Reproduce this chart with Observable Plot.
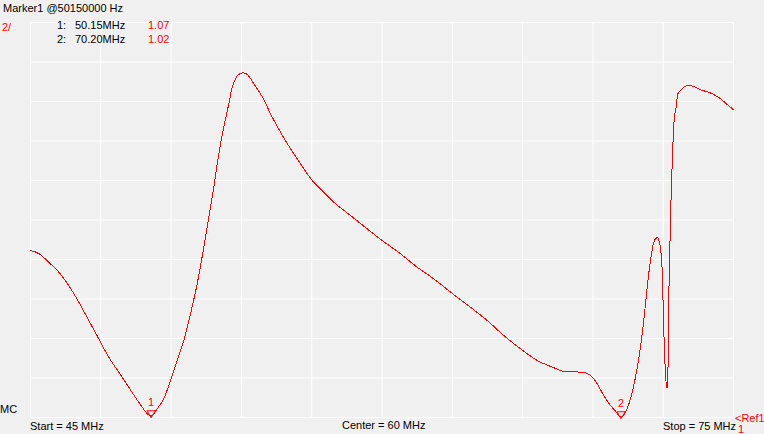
<!DOCTYPE html>
<html><head><meta charset="utf-8">
<script src="https://cdn.jsdelivr.net/npm/d3@7"></script>
<script src="https://cdn.jsdelivr.net/npm/@observablehq/plot@0.6"></script>
<style>
html,body{margin:0;padding:0;background:#f0f0f0;}
#chart{position:relative;width:764px;height:434px;}
svg text.ann{font-family:"Liberation Sans",Arial,sans-serif;font-size:11px;text-anchor:start;}
</style></head><body><div id="chart"></div>
<script>
// Sweep: frequency (MHz) and SWR
const freqMHz = [45.000,45.354,45.781,46.208,46.634,47.061,47.488,47.915,48.341,48.768,49.195,49.622,50.150,50.407,50.688,50.974,51.260,51.542,51.828,52.114,52.395,52.609,52.822,53.036,53.249,53.462,53.607,53.748,53.889,54.077,54.248,54.529,54.956,55.242,55.669,56.095,56.522,57.021,57.448,57.943,58.656,59.368,60.009,60.789,61.502,62.211,63.021,63.777,64.489,65.198,66.008,66.623,67.331,67.758,68.611,68.897,69.183,69.465,69.750,69.964,70.200,70.391,70.604,70.817,71.031,71.172,71.317,71.458,71.599,71.744,71.855,71.957,72.026,72.098,72.171,72.213,72.239,72.311,72.354,72.397,72.427,72.482,72.555,72.623,72.738,72.879,73.092,73.306,73.591,73.945,74.159,74.445,74.731,75.000];
const swr = [9.46,9.30,8.86,8.36,7.68,6.84,5.91,4.98,4.05,3.29,2.53,1.77,1.07,1.44,1.95,2.87,3.89,4.90,6.25,7.77,9.62,11.14,12.66,14.35,15.70,16.88,17.72,18.16,18.37,18.45,18.37,17.90,17.10,16.38,15.45,14.61,13.85,13.00,12.49,11.90,11.23,10.55,9.96,9.29,8.61,8.02,7.26,6.58,5.91,5.15,4.39,3.89,3.52,3.33,3.29,3.13,2.71,2.11,1.61,1.32,1.02,1.27,1.95,3.04,4.56,5.91,7.60,8.95,9.88,10.10,9.79,8.44,5.41,3.21,2.45,4.05,6.92,10.81,13.00,14.10,15.28,16.21,16.71,17.39,17.56,17.72,17.81,17.76,17.59,17.47,17.35,17.14,16.85,16.58];

// Markers
const markerLabel = ["1", "2"];
const markerFreq = [50.15, 70.20];
const markerSwr = [1.07, 1.02];
const markerFreqText = ["50.15MHz", "70.20MHz"];
const markerSwrText = ["1.07", "1.02"];

// Grid ticks (10 divisions each way)
const xTicks = [45,48,51,54,57,60,63,66,69,72,75];
const yTicks = [1,3,5,7,9,11,13,15,17,19,21];

// Labels
const headerText = "Marker1 @50150000 Hz";
const scaleText = "2/";
const startText = "Start = 45 MHz";
const centerText = "Center = 60 MHz";
const stopText = "Stop = 75 MHz";
const mcText = "MC";
const refText = "<Ref1";
const refValText = "1";

const data = freqMHz.map((f, i) => ({f, s: swr[i]}));
const markers = markerFreq.map((f, i) => ({f, s: markerSwr[i], label: markerLabel[i]}));

const plot = Plot.plot({
  width: 764, height: 434,
  marginTop: 22, marginBottom: 17, marginLeft: 30, marginRight: 31,
  style: {background: "#f0f0f0", fontFamily: "Liberation Sans, Arial, sans-serif", fontSize: "11px", overflow: "visible"},
  x: {domain: [45, 75], axis: null},
  y: {domain: [1, 21], axis: null},
  marks: [
    Plot.gridX(xTicks, {stroke: "#ffffff", strokeOpacity: 1, strokeWidth: 1}),
    Plot.gridY(yTicks, {stroke: "#ffffff", strokeOpacity: 1, strokeWidth: 1}),
    Plot.line(data, {x: "f", y: "s", stroke: "#ff0000", strokeWidth: 1, curve: "monotone-x", shapeRendering: "crispEdges"}),
    Plot.dot(markers, {x: "f", y: "s", symbol: "triangle", r: 3, rotate: 180, stroke: "#ff0000", fill: "none", strokeWidth: 1, dy: -3}),
    Plot.text(markers, {x: "f", y: "s", text: "label", fill: "#ff0000", dy: -14, fontSize: 11})
  ]
});

document.getElementById("chart").appendChild(plot);

const svg = d3.select(plot);
function ann(txt, x, y, color) {
  svg.append("text").attr("class", "ann").attr("x", x).attr("y", y)
    .attr("text-anchor", "start")
    .attr("fill", color || "#000").text(txt);
}
ann(headerText, 3, 12);
ann(scaleText, 2, 31, "#ff0000");
markerLabel.forEach((l, i) => {
  const y = 29 + i * 14;
  ann(l + ":", 57, y);
  ann(markerFreqText[i], 75, y);
  ann(markerSwrText[i], 148, y, "#ff0000");
});
ann(mcText, 0, 413);
ann(startText, 30, 430);
ann(centerText, 342, 429);
ann(stopText, 663, 430);
ann(refText, 735, 422, "#ff0000");
ann(refValText, 738, 433, "#ff0000");
</script></body></html>
